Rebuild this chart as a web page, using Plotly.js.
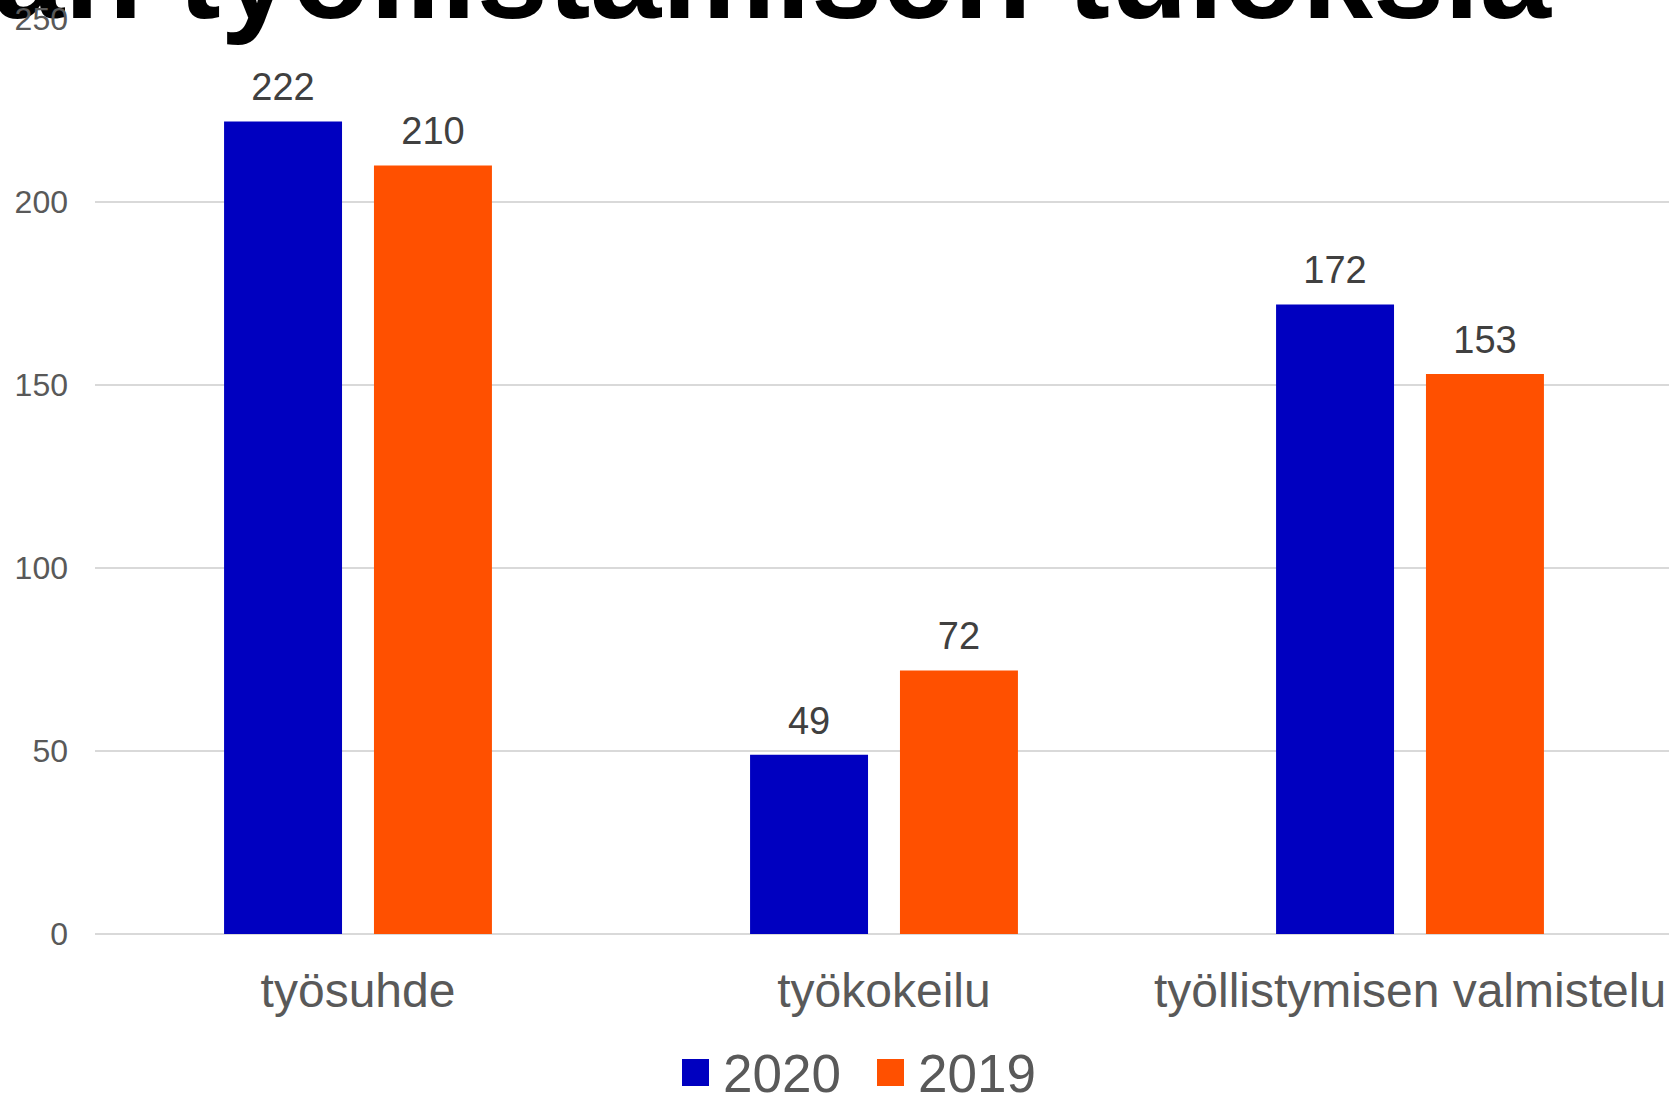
<!DOCTYPE html>
<html><head><meta charset="utf-8">
<script src="https://cdn.plot.ly/plotly-3.0.1.min.js"></script>
<style>html,body{margin:0;padding:0;overflow:hidden;background:#fff}</style>
</head><body><div id="chart" style="width:1673px;height:1097px"></div>
<script>
const categories = ['työsuhde', 'työkokeilu', 'työllistymisen valmistelu'];
const seriesNames = ['2020', '2019'];
const values2020 = [222, 49, 172];
const values2019 = [210, 72, 153];
const seriesColors = ['#0000C0', '#FF5000'];
const yTickVals = [0, 50, 100, 150, 200, 250];
const titleText = 'an työllistämisen tuloksia';

const FONT = 'Liberation Sans, Arial, sans-serif';
const seriesValues = [values2020, values2019];
const traces = seriesNames.map((name, i) => ({
  type: 'bar',
  name: name,
  x: categories,
  y: seriesValues[i],
  marker: {color: seriesColors[i]},
  text: seriesValues[i].map(String),
  textposition: 'outside',
  cliponaxis: false,
  textfont: {family: FONT, size: 38, color: '#404040'},
  hoverinfo: 'none'
}));

// plot-area geometry helpers (paper fractions from page pixels)
const L = 95, T = 19, W = 1578, H = 915;
const px = v => (v - L) / W;
const py = v => (T + H - v) / H;

// legend built as shapes + labels (larger swatches than Plotly's fixed legend symbols)
const legendSwatchX = [682, 877];
const legendShapes = seriesNames.map((n, i) => ({
  type: 'rect', xref: 'paper', yref: 'paper',
  x0: px(legendSwatchX[i]), x1: px(legendSwatchX[i] + 27),
  y0: py(1086), y1: py(1059),
  fillcolor: seriesColors[i], line: {width: 0}
}));
const legendLabels = seriesNames.map((n, i) => ({
  text: n, xref: 'paper', yref: 'paper',
  x: px(legendSwatchX[i] + 40), xanchor: 'left', y: py(1073), yanchor: 'middle',
  showarrow: false, borderpad: 0,
  font: {family: FONT, size: 53, color: '#595959'}
}));

const layout = {
  width: 1673, height: 1097,
  margin: {l: L, r: 0, t: T, b: 1097 - T - H, autoexpand: false},
  paper_bgcolor: '#ffffff', plot_bgcolor: '#ffffff',
  barmode: 'group',
  bargap: 0.43,
  bargroupgap: 0.213,
  showlegend: false,
  xaxis: {
    type: 'category', showgrid: false, zeroline: false, showline: false,
    ticks: '', ticklabelstandoff: 24,
    tickfont: {family: FONT, size: 48, color: '#595959'}
  },
  yaxis: {
    range: [0, 250], tickvals: yTickVals, showgrid: true, gridcolor: '#d9d9d9', gridwidth: 1.5,
    zeroline: true, zerolinecolor: '#d9d9d9', zerolinewidth: 2, showline: false,
    ticks: '', ticklabelstandoff: 26,
    tickfont: {family: FONT, size: 32, color: '#595959'}
  },
  shapes: legendShapes,
  annotations: [{
    text: '<b>' + titleText + '</b>', xref: 'paper', yref: 'paper',
    x: px(1553), xanchor: 'right', y: py(46), yanchor: 'bottom',
    showarrow: false, borderpad: 0,
    font: {family: FONT, size: 128, color: '#000000'}
  }].concat(legendLabels)
};

Plotly.newPlot('chart', traces, layout, {displayModeBar: false, staticPlot: true}).then(gd => {
  // raise data labels a bit further from bar tops
  gd.querySelectorAll('.bartext').forEach(t => {
    const tr = t.getAttribute('transform') || '';
    t.setAttribute('transform', 'translate(0,-10) ' + tr);
  });
  // draw y tick labels above the title, as in the original
  const yl = gd.querySelector('.yaxislayer-above');
  const top = gd.querySelector('.infolayer');
  if (yl && top) top.appendChild(yl);
});
</script>
</body></html>
